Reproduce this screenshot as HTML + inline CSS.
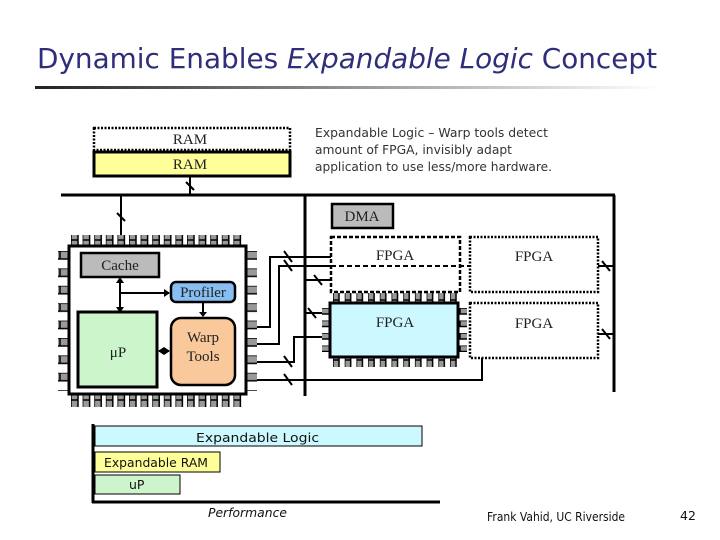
<!DOCTYPE html>
<html><head><meta charset="utf-8"><style>
body{margin:0;background:#fff;width:720px;height:540px;overflow:hidden}
svg{display:block}
.s{font-family:"Liberation Serif",serif;font-size:15px;fill:#222}
.t{font-family:"DejaVu Sans","Liberation Sans",sans-serif;font-size:12.5px;fill:#333}
</style></head><body>
<svg width="720" height="540" viewBox="0 0 720 540" xmlns="http://www.w3.org/2000/svg">
<defs>
<linearGradient id="g" x1="0" x2="1"><stop offset="0" stop-color="#222"/><stop offset="0.6" stop-color="#aaa"/><stop offset="1" stop-color="#fff"/></linearGradient>
<pattern id="ph" x="71" y="0" width="11.6" height="20" patternUnits="userSpaceOnUse"><rect x="0" y="0" width="7" height="20" fill="#999" stroke="#000" stroke-width="1.5"/></pattern>
<pattern id="pv" x="0" y="251" width="20" height="17.4" patternUnits="userSpaceOnUse"><rect x="0" y="0" width="20" height="8" fill="#999" stroke="#000" stroke-width="1.5"/></pattern>
<pattern id="fh" x="333" y="0" width="11.7" height="20" patternUnits="userSpaceOnUse"><rect x="0" y="0" width="6" height="20" fill="#999" stroke="#000" stroke-width="1.5"/></pattern>
<pattern id="fv" x="0" y="308" width="20" height="12.5" patternUnits="userSpaceOnUse"><rect x="0" y="0" width="20" height="6" fill="#999" stroke="#000" stroke-width="1.5"/></pattern>
</defs>
<text x="37" y="68" font-family="'DejaVu Sans','Liberation Sans',sans-serif" font-size="28" fill="#2e2e7a" textLength="620" lengthAdjust="spacingAndGlyphs">Dynamic Enables <tspan font-style="italic">Expandable Logic</tspan> Concept</text>
<rect x="35" y="86" width="625" height="3" fill="url(#g)"/>

<rect x="94" y="128" width="196" height="22" fill="#fff" stroke="#000" stroke-width="2.5" stroke-dasharray="2,1.5"/>
<text x="190" y="144" class="s" text-anchor="middle">RAM</text>
<rect x="94" y="152" width="196" height="24" fill="#ffff99" stroke="#000" stroke-width="3"/>
<text x="190" y="169" class="s" text-anchor="middle">RAM</text>
<text class="t"><tspan x="315" y="137" textLength="233" lengthAdjust="spacingAndGlyphs">Expandable Logic – Warp tools detect</tspan><tspan x="315" y="154" textLength="197" lengthAdjust="spacingAndGlyphs">amount of FPGA, invisibly adapt</tspan><tspan x="315" y="171" textLength="237" lengthAdjust="spacingAndGlyphs">application to use less/more hardware.</tspan></text>

<g stroke="#000" fill="none">
<line x1="61" y1="195" x2="615" y2="195" stroke-width="3"/>
<line x1="305" y1="195" x2="305" y2="396" stroke-width="3"/>
<line x1="614" y1="195" x2="614" y2="392" stroke-width="3"/>
<line x1="190" y1="176" x2="190" y2="195" stroke-width="2"/>
<line x1="121" y1="195" x2="121" y2="236" stroke-width="2"/>
<polyline points="246,327 270,327 270,257 331,257" stroke-width="2"/>
<polyline points="246,344 279,344 279,266 331,266" stroke-width="2"/>
<polyline points="246,362 294,362 294,337 323,337" stroke-width="2"/>
<polyline points="246,380 482,380 482,358" stroke-width="2"/>
<line x1="305" y1="280" x2="331" y2="280" stroke-width="2"/>
<line x1="305" y1="313" x2="323" y2="313" stroke-width="2"/>
<line x1="598" y1="266" x2="614" y2="266" stroke-width="2"/>
<line x1="598" y1="334" x2="614" y2="334" stroke-width="2"/>
<g stroke-width="2">
<line x1="186" y1="182" x2="194" y2="190"/><line x1="117" y1="213" x2="125" y2="221"/>
<line x1="284" y1="251" x2="292" y2="262"/><line x1="284" y1="260" x2="292" y2="271"/>
<line x1="314" y1="275" x2="322" y2="285"/><line x1="308" y1="308" x2="316" y2="318"/>
<line x1="284" y1="356" x2="292" y2="367"/><line x1="284" y1="374" x2="292" y2="385"/>
<line x1="602" y1="261" x2="610" y2="271"/><line x1="602" y1="329" x2="610" y2="339"/>
</g>
</g>

<rect x="71" y="235" width="174" height="12" fill="url(#ph)"/>
<rect x="71" y="394" width="174" height="13" fill="url(#ph)"/>
<rect x="58" y="251" width="12" height="140" fill="url(#pv)"/>
<rect x="246" y="251" width="11" height="140" fill="url(#pv)"/>
<rect x="69" y="246" width="177" height="148" fill="#fff" stroke="#000" stroke-width="3"/>
<rect x="81" y="253" width="78" height="24" fill="#bbb" stroke="#000" stroke-width="2.5"/>
<text x="120" y="270" class="s" text-anchor="middle">Cache</text>
<rect x="78" y="312" width="79" height="75" fill="#ccf5cc" stroke="#000" stroke-width="3"/>
<text x="118" y="357" class="s" font-size="18" text-anchor="middle">μP</text>
<rect x="171" y="282" width="64" height="20" rx="5" fill="#88bff2" stroke="#000" stroke-width="2.5"/>
<text x="203" y="297" class="s" text-anchor="middle">Profiler</text>
<rect x="171" y="318" width="64" height="67" rx="10" fill="#f9c89b" stroke="#000" stroke-width="2.5"/>
<text x="203" y="342" class="s" text-anchor="middle">Warp</text>
<text x="203" y="361" class="s" text-anchor="middle">Tools</text>
<g stroke="#000" stroke-width="2" fill="none">
<line x1="120" y1="279" x2="120" y2="311"/>
<line x1="120" y1="293" x2="169" y2="293"/>
<line x1="203" y1="303" x2="203" y2="316"/>
<line x1="159" y1="351" x2="169" y2="351"/>
</g>
<g fill="#000"><path d="M116,283 L120,277 L124,283Z"/><path d="M116,307 L120,313 L124,307Z"/><path d="M164,289 L170,293 L164,297Z"/><path d="M199,312 L203,317 L207,312Z"/><path d="M164,347 L170,351 L164,355Z"/><path d="M164,347 L158,351 L164,355Z"/></g>

<rect x="332" y="204" width="61" height="24" fill="#bbb" stroke="#000" stroke-width="2.5"/>
<text x="362" y="221" class="s" text-anchor="middle">DMA</text>
<rect x="331" y="237" width="129" height="55" fill="#fff" stroke="#000" stroke-width="2.5" stroke-dasharray="4,2"/>
<line x1="331" y1="266" x2="470" y2="266" stroke="#000" stroke-width="2" stroke-dasharray="5,3"/>
<text x="395" y="260" class="s" text-anchor="middle">FPGA</text>
<rect x="470" y="237" width="128" height="55" fill="#fff" stroke="#000" stroke-width="2.5" stroke-dasharray="2,1.5"/>
<text x="534" y="261" class="s" text-anchor="middle">FPGA</text>
<rect x="470" y="303" width="128" height="55" fill="#fff" stroke="#000" stroke-width="2.5" stroke-dasharray="2,1.5"/>
<text x="534" y="328" class="s" text-anchor="middle">FPGA</text>
<rect x="333" y="293" width="124" height="10" fill="url(#fh)"/>
<rect x="333" y="356" width="124" height="11" fill="url(#fh)"/>
<rect x="322" y="308" width="9" height="44" fill="url(#fv)"/>
<rect x="458" y="308" width="9" height="44" fill="url(#fv)"/>
<rect x="330" y="303" width="128" height="54" fill="#ccf8ff" stroke="#000" stroke-width="3"/>
<text x="395" y="327" class="s" text-anchor="middle">FPGA</text>

<line x1="93" y1="424" x2="93" y2="503" stroke="#000" stroke-width="3"/>
<line x1="92" y1="502" x2="440" y2="502" stroke="#000" stroke-width="3"/>
<rect x="95" y="426" width="327" height="20" fill="#ccf8ff" stroke="#000"/>
<text x="196" y="442" class="t" font-size="14" textLength="123" lengthAdjust="spacingAndGlyphs" style="fill:#111">Expandable Logic</text>
<rect x="95" y="452" width="125" height="20" fill="#ffff99" stroke="#000"/>
<text x="104" y="467" class="t" textLength="104" lengthAdjust="spacingAndGlyphs" style="fill:#111">Expandable RAM</text>
<rect x="95" y="475" width="85" height="19" fill="#ccf5cc" stroke="#000"/>
<text x="129" y="489" class="t" style="fill:#111">uP</text>
<text x="208" y="517" class="t" font-style="italic" textLength="79" lengthAdjust="spacingAndGlyphs" style="fill:#111">Performance</text>
<text x="487" y="521" class="t" textLength="138" lengthAdjust="spacingAndGlyphs" style="fill:#111">Frank Vahid, UC Riverside</text>
<text x="680" y="520" class="t" font-size="14" style="fill:#111">42</text>
</svg>
</body></html>
